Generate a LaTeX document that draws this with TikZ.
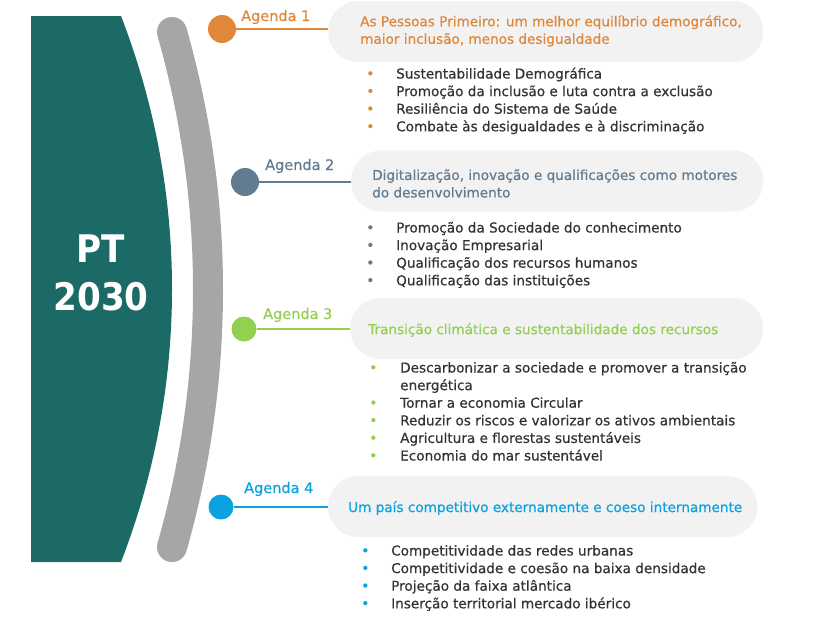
\documentclass[tikz,border=0pt]{standalone}
\usepackage{fontspec}
\setmainfont{DejaVu Sans}[FakeBold=0.6]
\newfontfamily\condfont{DejaVu Sans Condensed}
\usepackage{tikz}
\usepackage{xcolor}
\usetikzlibrary{positioning, calc}
\definecolor{ptteal}{HTML}{1B6A66}
\definecolor{ptband}{HTML}{A6A6A6}
\definecolor{ptorange}{HTML}{E0883A}
\definecolor{ptslate}{HTML}{637B91}
\definecolor{ptgreen}{HTML}{92D050}
\definecolor{ptblue}{HTML}{0AA2E0}
\definecolor{ptbox}{HTML}{F2F2F2}
\definecolor{pttext}{HTML}{333333}
\newcommand{\bul}[1]{\textcolor{#1}{\fontsize{14}{14}\selectfont\textbullet}}

\begin{document}
\begin{tikzpicture}[x=1pt, y=-1pt,
  dot/.style={circle, inner sep=0pt, minimum size=#1},
  tag/.style={anchor=west, inner sep=0pt, font=\fontsize{14.5}{18}\selectfont},
  pill/.style={fill=ptbox, rounded corners=30pt, minimum height=61pt,
    anchor=west, inner sep=0pt},
  head/.style={anchor=west, inner sep=0pt, align=left,
    font=\fontsize{13.6}{17.5}\selectfont},
  items/.style={anchor=base west, inner sep=0pt, text=pttext,
    font=\fontsize{13.6}{17.6}\selectfont},
  link/.style={line width=2pt}
]
  \useasboundingbox (0,0) rectangle (813,621);
  % left block and band
  \fill[ptteal] (31,16) -- (121,16)
    arc[start angle=-21.17, end angle=21.17, radius=756] -- (31,562) -- cycle;
  \draw[ptband, line width=30pt, line cap=round]
    (172,32) arc[start angle=-15.92, end angle=15.92, radius=939];
  \node[text=white, font=\condfont\fontsize{38}{48}\selectfont\bfseries, align=center]
    (pt) at (101,273) {PT\\2030};

  % agenda 1
  \node[dot=28pt, fill=ptorange] (c1) at (222,29) {};
  \node[tag, text=ptorange] (l1) at (241,17) {Agenda 1};
  \node[pill, minimum width=435pt] (b1) at (328,31.5) {};
  \node[head, text=ptorange] (h1) at (360,31)
    {As Pessoas Primeiro: um melhor equilíbrio demográfico,\\maior inclusão, menos desigualdade};
  \draw[link, ptorange] (c1.east) -- (c1.east -| b1.west);
  \node[items] (i1) at (366,78.5) {\begin{tabular}[t]{@{}p{30pt}@{}l@{}}
    \bul{ptorange} & Sustentabilidade Demográfica\\
    \bul{ptorange} & Promoção da inclusão e luta contra a exclusão\\
    \bul{ptorange} & Resiliência do Sistema de Saúde\\
    \bul{ptorange} & Combate às desigualdades e à discriminação
  \end{tabular}};

  % agenda 2
  \node[dot=28pt, fill=ptslate] (c2) at (245,182) {};
  \node[tag, text=ptslate] (l2) at (265,166) {Agenda 2};
  \node[pill, minimum width=412pt] (b2) at (351,181) {};
  \node[head, text=ptslate] (h2) at (372,183.5)
    {Digitalização, inovação e qualificações como motores\\do desenvolvimento};
  \draw[link, ptslate] (c2.east) -- (c2.east -| b2.west);
  \node[items] (i2) at (366,232.5) {\begin{tabular}[t]{@{}p{30pt}@{}l@{}}
    \bul{ptslate} & Promoção da Sociedade do conhecimento\\
    \bul{ptslate} & Inovação Empresarial\\
    \bul{ptslate} & Qualificação dos recursos humanos\\
    \bul{ptslate} & Qualificação das instituições
  \end{tabular}};

  % agenda 3
  \node[dot=25pt, fill=ptgreen] (c3) at (244,329) {};
  \node[tag, text=ptgreen] (l3) at (263,315) {Agenda 3};
  \node[pill, minimum width=413pt] (b3) at (350,328.5) {};
  \node[head, text=ptgreen] (h3) at (368,330)
    {Transição climática e sustentabilidade dos recursos};
  \draw[link, ptgreen] (c3.east) -- (c3.east -| b3.west);
  \node[items] (i3) at (369,372.5) {\begin{tabular}[t]{@{}p{31pt}@{}l@{}}
    \bul{ptgreen} & Descarbonizar a sociedade e promover a transição\\
                  & energética\\
    \bul{ptgreen} & Tornar a economia Circular\\
    \bul{ptgreen} & Reduzir os riscos e valorizar os ativos ambientais\\
    \bul{ptgreen} & Agricultura e florestas sustentáveis\\
    \bul{ptgreen} & Economia do mar sustentável
  \end{tabular}};

  % agenda 4
  \node[dot=25pt, fill=ptblue] (c4) at (221,507) {};
  \node[tag, text=ptblue] (l4) at (244,489) {Agenda 4};
  \node[pill, minimum width=429pt] (b4) at (328,506.5) {};
  \node[head, text=ptblue] (h4) at (348,508)
    {Um país competitivo externamente e coeso internamente};
  \draw[link, ptblue] (c4.east) -- (c4.east -| b4.west);
  \node[items] (i4) at (361,555.5) {\begin{tabular}[t]{@{}p{30pt}@{}l@{}}
    \bul{ptblue} & Competitividade das redes urbanas\\
    \bul{ptblue} & Competitividade e coesão na baixa densidade\\
    \bul{ptblue} & Projeção da faixa atlântica\\
    \bul{ptblue} & Inserção territorial mercado ibérico
  \end{tabular}};
\end{tikzpicture}
\end{document}
